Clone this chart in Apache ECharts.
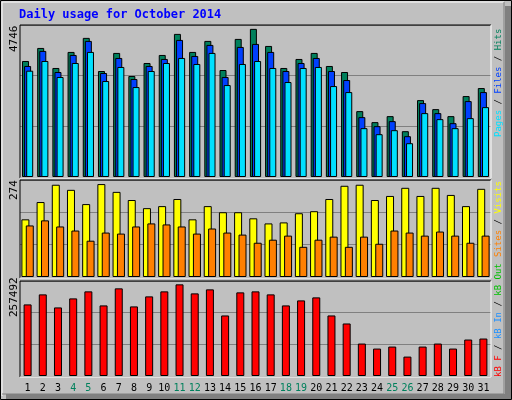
<!DOCTYPE html><html><head><meta charset="utf-8">
<script src="https://cdn.jsdelivr.net/npm/echarts@6/dist/echarts.min.js"></script>
<style>html,body{margin:0;padding:0;background:#c0c0c0}#c{width:512px;height:400px}</style></head><body><div id="c"></div><script>
const days=['1','2','3','4','5','6','7','8','9','10','11','12','13','14','15','16','17','18','19','20','21','22','23','24','25','26','27','28','29','30','31'];
const weekends=['4','5','11','12','18','19','25','26'];
const hits=[3717,4135,3493,4007,4457,3396,3975,3236,3653,3910,4585,4007,4360,3428,4424,4746,4199,3493,3782,3975,3557,3364,2111,1758,1950,1468,2464,2175,1950,2593,2850];
const files=[3557,4039,3364,3910,4360,3332,3814,3139,3557,3782,4392,3878,4232,3203,4167,4264,4007,3396,3653,3814,3396,3107,1918,1629,1790,1308,2368,2047,1725,2432,2721];
const pages=[3406,3717,3203,3653,4007,3075,3525,2882,3396,3653,3814,3621,3975,2946,3621,3717,3493,3043,3493,3525,2914,2721,1565,1372,1500,1083,2047,1854,1565,1886,2239];
const visits=[170,221,272,257,215,274,251,227,203,209,230,170,209,191,191,173,158,161,188,194,230,269,272,227,239,263,239,263,242,209,260];
const sites=[152,167,149,137,107,131,128,149,158,155,149,128,143,131,125,101,110,122,89,110,119,89,119,98,137,131,122,134,122,101,122];
const kbytes=[201117,229311,192659,218034,237769,198298,246228,195478,223672,237769,257492,232131,243408,170104,234950,237769,229311,198298,212395,220853,170104,147549,91161,77064,82702,54508,82702,91161,77064,102438,105258];
const topLabels=['4746','274','257492'];
const F='DejaVu Sans Mono, monospace';
const ch=echarts.init(document.getElementById('c'));
const grids=[{top:25,height:152},{top:180,height:97},{top:281,height:95}];
const maxes=[4870,286,266900];
const bs={borderColor:'#000',borderWidth:1};
function xa(i){return {gridIndex:i,type:'category',data:days,axisLine:{show:false},axisTick:{show:false},
 axisLabel:i==2?{show:true,interval:0,fontFamily:F,fontSize:10,margin:7,color:v=>weekends.includes(v)?'#00805c':'#000'}:{show:false}};}
function ya(i){return {gridIndex:i,type:'value',min:0,max:maxes[i],interval:maxes[i]/3,axisLabel:{show:false},axisLine:{show:false},axisTick:{show:false},splitLine:{show:true,lineStyle:{color:'#808080',width:1}}};}
function frame(g){const x=20,w=471,y=g.top,h=g.height+1;return [
 {type:'line',shape:{x1:x,y1:y,x2:x+w,y2:y},style:{stroke:'#000',lineWidth:1},z:100},
 {type:'line',shape:{x1:x,y1:y,x2:x,y2:y+h},style:{stroke:'#000',lineWidth:1},z:100},
 {type:'line',shape:{x1:x,y1:y+h,x2:x+w,y2:y+h},style:{stroke:'#fff',lineWidth:1},z:100},
 {type:'line',shape:{x1:x+w,y1:y,x2:x+w,y2:y+h},style:{stroke:'#fff',lineWidth:1},z:100}];}
function vtext(x,y,rich,text,size){return {type:'text',x:x,y:y,rotation:Math.PI/2,style:{text:text,rich:rich,font:size+'px '+F,fill:'#000',align:'left',verticalAlign:'middle'},z:100};}
const graphics=[
 {type:'rect',shape:{x:0.5,y:0.5,width:511,height:399},style:{fill:'#c0c0c0',stroke:'#000',lineWidth:1},z:-10,silent:true},
 {type:'rect',shape:{x:505,y:6,width:6,height:393},style:{fill:'#808080'},z:-9},
 {type:'rect',shape:{x:6,y:394,width:505,height:5},style:{fill:'#808080'},z:-9},
 {type:'polyline',shape:{points:[[2,396],[2,2],[504,2]]},style:{stroke:'#fff',lineWidth:1,fill:null},z:-8},
 {type:'polyline',shape:{points:[[2,394],[504,394],[504,2]]},style:{stroke:'#808080',lineWidth:1,fill:null},z:-8},
 {type:'text',x:19,y:15,style:{text:'Daily usage for October 2014',font:'bold 12px '+F,fill:'#0000ff',verticalAlign:'middle'},z:100},
 ...frame(grids[0]),...frame(grids[1]),...frame(grids[2]),
 vtext(14,52,{},topLabels[0],11),vtext(14,200,{},topLabels[1],11),vtext(14,317,{},topLabels[2],11),
 vtext(499,137,{p:{fill:'#00e0ff'},f:{fill:'#0040ff'},h:{fill:'#00805c'},s:{fill:'#000'}},'{p|Pages}{s| / }{f|Files}{s| / }{h|Hits}',9),
 vtext(499,257,{a:{fill:'#ff8000'},b:{fill:'#ffff00'},s:{fill:'#000'}},'{a|Sites}{s| / }{b|Visits}',9),
 vtext(499,377,{a:{fill:'#ff0000'},b:{fill:'#1e90ff'},c:{fill:'#00c000'},s:{fill:'#000'}},'{a|kB F}{s| / }{b|kB In}{s| / }{c|kB Out}',9)
];
ch.setOption({animation:false,backgroundColor:'#c0c0c0',
 grid:grids.map(g=>({left:20,right:21,top:g.top,height:g.height})),
 xAxis:[xa(0),xa(1),xa(2)],yAxis:[ya(0),ya(1),ya(2)],
 series:[
  {type:'bar',name:'Hits',xAxisIndex:0,yAxisIndex:0,data:hits,barWidth:7,barGap:'-70%',itemStyle:{color:'#00805c',...bs}},
  {type:'bar',name:'Files',xAxisIndex:0,yAxisIndex:0,data:files,barWidth:7,barGap:'-70%',itemStyle:{color:'#0040ff',...bs}},
  {type:'bar',name:'Pages',xAxisIndex:0,yAxisIndex:0,data:pages,barWidth:7,barGap:'-70%',itemStyle:{color:'#00e0ff',...bs}},
  {type:'bar',name:'Visits',xAxisIndex:1,yAxisIndex:1,data:visits,barWidth:8,barGap:'-45%',itemStyle:{color:'#ffff00',...bs}},
  {type:'bar',name:'Sites',xAxisIndex:1,yAxisIndex:1,data:sites,barWidth:8,barGap:'-45%',itemStyle:{color:'#ff8000',...bs}},
  {type:'bar',name:'KBytes',xAxisIndex:2,yAxisIndex:2,data:kbytes,barWidth:8,itemStyle:{color:'#ff0000',...bs}}
 ],
 graphic:{elements:graphics}});
</script></body></html>
